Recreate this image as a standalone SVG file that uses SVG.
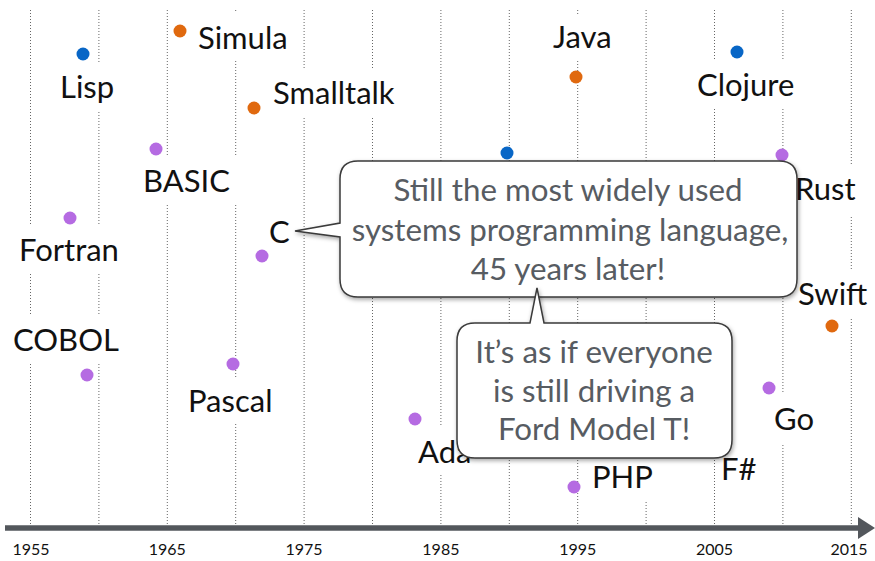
<svg xmlns="http://www.w3.org/2000/svg" width="875" height="561" viewBox="0 0 875 561">
<style>
.grid{stroke:#666;stroke-width:1;stroke-dasharray:1 2;fill:none}
.lbl{font-family:Lato,"Open Sans","DejaVu Sans",sans-serif;font-size:31px;fill:#111}
.yr{font-family:Lato,"Open Sans","DejaVu Sans",sans-serif;font-size:16px;fill:#111;text-anchor:middle}
.mask{fill:#fff}
.b{fill:#0866c6}.o{fill:#e0690f}.p{fill:#b56be2}
.call{fill:#fff;stroke:#3a3a3a;stroke-width:1.5;filter:url(#sh)}
.ct{font-family:Lato,"Open Sans","DejaVu Sans",sans-serif;font-size:31.3px;fill:#575c62;text-anchor:middle}
</style>
<defs>
<filter id="sh" x="-10%" y="-10%" width="120%" height="130%">
<feDropShadow dx="1" dy="2" stdDeviation="2" flood-color="#000" flood-opacity="0.35"/>
</filter>
</defs>
<rect width="875" height="561" fill="#fff"/>
<g id="gridlines">
<line class="grid" x1="30.5" y1="10" x2="30.5" y2="524"/>
<line class="grid" x1="98.9" y1="10" x2="98.9" y2="524"/>
<line class="grid" x1="167.3" y1="10" x2="167.3" y2="524"/>
<line class="grid" x1="235.7" y1="10" x2="235.7" y2="524"/>
<line class="grid" x1="304.1" y1="10" x2="304.1" y2="524"/>
<line class="grid" x1="372.5" y1="10" x2="372.5" y2="524"/>
<line class="grid" x1="440.9" y1="10" x2="440.9" y2="524"/>
<line class="grid" x1="509.3" y1="10" x2="509.3" y2="524"/>
<line class="grid" x1="577.7" y1="10" x2="577.7" y2="524"/>
<line class="grid" x1="646.1" y1="10" x2="646.1" y2="524"/>
<line class="grid" x1="714.5" y1="10" x2="714.5" y2="524"/>
<line class="grid" x1="782.9" y1="10" x2="782.9" y2="524"/>
<line class="grid" x1="851.3" y1="10" x2="851.3" y2="524"/>
</g>
<g id="axis">
<line x1="5" y1="528" x2="862" y2="528" stroke="#53575c" stroke-width="5.5"/>
<polygon points="858,517 875,528 858,539" fill="#53575c"/>
<text class="yr" x="31" y="555">1955</text>
<text class="yr" x="167.3" y="555">1965</text>
<text class="yr" x="304.1" y="555">1975</text>
<text class="yr" x="440.9" y="555">1985</text>
<text class="yr" x="577.7" y="555">1995</text>
<text class="yr" x="714.5" y="555">2005</text>
<text class="yr" x="849" y="555">2015</text>
</g>
<g id="lisp"><rect class="mask" x="52" y="62" width="69" height="48"/><text class="lbl" x="60" y="98">Lisp</text><circle class="b" cx="83" cy="54" r="6.5"/></g>
<g id="simula"><rect class="mask" x="190" y="13" width="103" height="48"/><text class="lbl" x="198" y="49">Simula</text><circle class="o" cx="180" cy="31" r="6.5"/></g>
<g id="smalltalk"><rect class="mask" x="266" y="69" width="134" height="47"/><text class="lbl" x="273" y="104">Smalltalk</text><circle class="o" cx="254" cy="108" r="6.5"/></g>
<g id="basic"><rect class="mask" x="136" y="157" width="103" height="47"/><text class="lbl" x="143" y="192">BASIC</text><circle class="p" cx="156" cy="149" r="6.5"/></g>
<g id="fortran"><rect class="mask" x="12" y="225" width="116" height="48"/><text class="lbl" x="19" y="261">Fortran</text><circle class="p" cx="70" cy="218" r="6.5"/></g>
<g id="cobol"><rect class="mask" x="6" y="315" width="128" height="48"/><text class="lbl" x="13" y="351">COBOL</text><circle class="p" cx="87" cy="375" r="6.5"/></g>
<g id="pascal"><rect class="mask" x="181" y="377" width="94" height="47"/><text class="lbl" x="188" y="412">Pascal</text><circle class="p" cx="233" cy="364" r="6.5"/></g>
<g id="c"><rect class="mask" x="263" y="208" width="34" height="46"/><text class="lbl" x="269" y="243">C</text><circle class="p" cx="262" cy="256" r="6.5"/></g>
<g id="ada"><rect class="mask" x="411" y="426" width="62" height="49"/><text class="lbl" x="418" y="463">Ada</text><circle class="p" cx="415" cy="419" r="6.5"/></g>
<g id="php"><rect class="mask" x="585" y="454" width="73" height="46"/><text class="lbl" x="592" y="488">PHP</text><circle class="p" cx="574" cy="487" r="6.5"/></g>
<g id="java"><rect class="mask" x="546" y="14" width="65" height="47"/><text class="lbl" x="553" y="48">Java</text><circle class="o" cx="576" cy="77" r="6.5"/></g>
<g id="clojure"><rect class="mask" x="690" y="61" width="116" height="47"/><text class="lbl" x="697" y="96">Clojure</text><circle class="b" cx="737" cy="52" r="6.5"/></g>
<g id="haskell"><circle class="b" cx="507" cy="153" r="6.5"/></g>
<g id="rust"><rect class="mask" x="788" y="166" width="70" height="51"/><text class="lbl" x="795" y="200">Rust</text><circle class="p" cx="782" cy="155" r="6.5"/></g>
<g id="swift"><rect class="mask" x="791" y="269" width="82" height="48"/><text class="lbl" x="798" y="305">Swift</text><circle class="o" cx="832" cy="326" r="6.5"/></g>
<g id="go"><rect class="mask" x="767" y="394" width="56" height="49"/><text class="lbl" x="774" y="430">Go</text><circle class="p" cx="769" cy="388" r="6.5"/></g>
<g id="fsharp"><rect class="mask" x="717" y="446" width="43" height="46"/><text class="lbl" x="721" y="480">F#</text></g>
<g id="connectors">
<g id="callout-c">
<path class="call" d="M358,161 H779 Q797,161 797,179 V279 Q797,297 779,297 H358 Q340,297 340,279 V237 L295,231 L340,223 V179 Q340,161 358,161 Z"/>
<text class="ct" x="568" y="201">Still the most widely used</text>
<text class="ct" x="570" y="241">systems programming language,</text>
<text class="ct" x="568" y="280">45 years later!</text>
</g>
<g id="callout-t">
<path class="call" d="M475,323 H530 L537,288 L544,323 H714 Q732,323 732,341 V440 Q732,458 714,458 H475 Q457,458 457,440 V341 Q457,323 475,323 Z"/>
<text class="ct" x="594" y="363">It’s as if everyone</text>
<text class="ct" x="594" y="402">is still driving a</text>
<text class="ct" x="594" y="440">Ford Model T!</text>
</g>
</g>
</svg>
